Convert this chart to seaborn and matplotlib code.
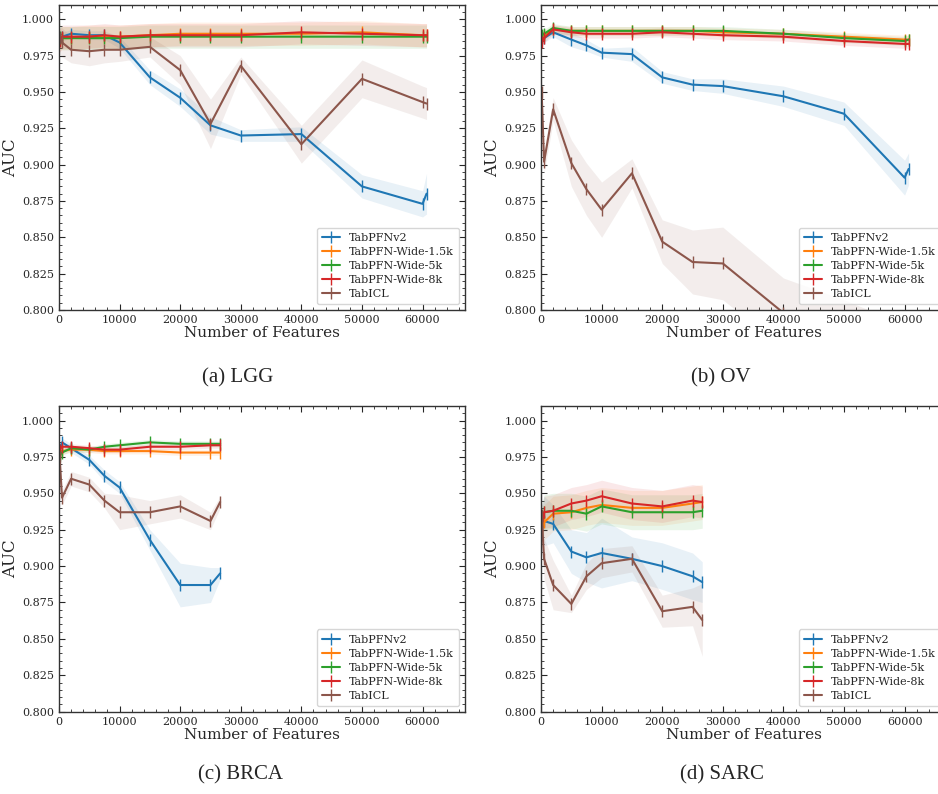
import numpy as np
import pandas as pd
import seaborn as sns
import matplotlib.pyplot as plt
from matplotlib.ticker import MultipleLocator, AutoMinorLocator

# Feature counts used in the sweep
feat_long = [100, 500, 2000, 5000, 7500, 10000, 15000, 20000, 25000, 30000, 40000, 50000, 60000, 60660]
feat_short = [100, 500, 2000, 5000, 7500, 10000, 15000, 20000, 25000, 26600]

models = ['TabPFNv2', 'TabPFN-Wide-1.5k', 'TabPFN-Wide-5k', 'TabPFN-Wide-8k', 'TabICL']
colors = ['#1f77b4', '#ff7f0e', '#2ca02c', '#d62728', '#8c564b']

# LGG
lgg_mean = {
    'TabPFNv2': [0.987, 0.988, 0.990, 0.989, 0.989, 0.984, 0.960, 0.946, 0.927, 0.920, 0.921, 0.885, 0.873, 0.880],
    'TabPFN-Wide-1.5k': [0.986, 0.987, 0.987, 0.988, 0.988, 0.988, 0.989, 0.990, 0.990, 0.990, 0.990, 0.991, 0.989, 0.989],
    'TabPFN-Wide-5k': [0.988, 0.987, 0.987, 0.987, 0.987, 0.987, 0.988, 0.988, 0.988, 0.988, 0.988, 0.988, 0.988, 0.988],
    'TabPFN-Wide-8k': [0.985, 0.988, 0.988, 0.988, 0.989, 0.988, 0.989, 0.989, 0.989, 0.989, 0.991, 0.990, 0.989, 0.989],
    'TabICL': [0.987, 0.984, 0.979, 0.978, 0.979, 0.979, 0.981, 0.965, 0.928, 0.968, 0.914, 0.959, 0.943, 0.942],
}
lgg_sd = {
    'TabPFNv2': [0.004, 0.003, 0.003, 0.003, 0.003, 0.004, 0.005, 0.006, 0.006, 0.004, 0.005, 0.008, 0.009, 0.014],
    'TabPFN-Wide-1.5k': [0.008] * 14,
    'TabPFN-Wide-5k': [0.008] * 14,
    'TabPFN-Wide-8k': [0.008] * 14,
    'TabICL': [0.011, 0.010, 0.009, 0.010, 0.009, 0.008, 0.007, 0.010, 0.017, 0.006, 0.013, 0.013, 0.011, 0.011],
}

# OV
ov_mean = {
    'TabPFNv2': [0.988, 0.987, 0.991, 0.986, 0.982, 0.977, 0.976, 0.960, 0.955, 0.954, 0.947, 0.935, 0.891, 0.897],
    'TabPFN-Wide-1.5k': [0.988, 0.989, 0.993, 0.992, 0.992, 0.992, 0.992, 0.992, 0.992, 0.991, 0.990, 0.988, 0.986, 0.986],
    'TabPFN-Wide-5k': [0.989, 0.990, 0.994, 0.992, 0.992, 0.992, 0.992, 0.992, 0.992, 0.992, 0.990, 0.987, 0.985, 0.986],
    'TabPFN-Wide-8k': [0.984, 0.987, 0.993, 0.991, 0.990, 0.990, 0.990, 0.991, 0.990, 0.989, 0.988, 0.985, 0.983, 0.983],
    'TabICL': [0.950, 0.902, 0.938, 0.901, 0.883, 0.869, 0.894, 0.847, 0.833, 0.832, 0.798, 0.780, 0.765, 0.765],
}
ov_sd = {
    'TabPFNv2': [0.004, 0.003, 0.003, 0.005, 0.004, 0.003, 0.005, 0.004, 0.004, 0.005, 0.007, 0.008, 0.012, 0.011],
    'TabPFN-Wide-1.5k': [0.003] * 14,
    'TabPFN-Wide-5k': [0.003] * 14,
    'TabPFN-Wide-8k': [0.003] * 14,
    'TabICL': [0.010, 0.008, 0.008, 0.016, 0.018, 0.019, 0.010, 0.015, 0.022, 0.025, 0.024, 0.027, 0.025, 0.025],
}

# BRCA
brca_mean = {
    'TabPFNv2': [0.980, 0.985, 0.981, 0.973, 0.962, 0.954, 0.918, 0.887, 0.887, 0.895],
    'TabPFN-Wide-1.5k': [0.978, 0.979, 0.980, 0.980, 0.979, 0.979, 0.979, 0.978, 0.978, 0.978],
    'TabPFN-Wide-5k': [0.976, 0.978, 0.981, 0.980, 0.982, 0.983, 0.985, 0.984, 0.984, 0.984],
    'TabPFN-Wide-8k': [0.980, 0.982, 0.982, 0.981, 0.980, 0.980, 0.982, 0.982, 0.983, 0.983],
    'TabICL': [0.975, 0.947, 0.960, 0.956, 0.945, 0.937, 0.937, 0.941, 0.931, 0.944],
}
brca_sd = {
    'TabPFNv2': [0.004, 0.003, 0.003, 0.003, 0.004, 0.004, 0.007, 0.015, 0.012, 0.004],
    'TabPFN-Wide-1.5k': [0.002] * 10,
    'TabPFN-Wide-5k': [0.002] * 10,
    'TabPFN-Wide-8k': [0.002] * 10,
    'TabICL': [0.015, 0.005, 0.005, 0.005, 0.005, 0.012, 0.008, 0.008, 0.006, 0.004],
}

# SARC
sarc_mean = {
    'TabPFNv2': [0.925, 0.931, 0.929, 0.910, 0.906, 0.909, 0.905, 0.900, 0.893, 0.889],
    'TabPFN-Wide-1.5k': [0.925, 0.930, 0.936, 0.937, 0.940, 0.942, 0.940, 0.940, 0.943, 0.944],
    'TabPFN-Wide-5k': [0.930, 0.937, 0.938, 0.938, 0.936, 0.941, 0.937, 0.937, 0.937, 0.938],
    'TabPFN-Wide-8k': [0.928, 0.937, 0.938, 0.943, 0.945, 0.948, 0.943, 0.941, 0.945, 0.944],
    'TabICL': [0.935, 0.905, 0.887, 0.874, 0.893, 0.902, 0.905, 0.869, 0.872, 0.863],
}
sarc_sd = {
    'TabPFNv2': [0.017, 0.017, 0.013, 0.015, 0.017, 0.024, 0.015, 0.016, 0.016, 0.014],
    'TabPFN-Wide-1.5k': [0.012] * 10,
    'TabPFN-Wide-5k': [0.012] * 10,
    'TabPFN-Wide-8k': [0.011] * 10,
    'TabICL': [0.020, 0.014, 0.017, 0.006, 0.009, 0.010, 0.009, 0.011, 0.013, 0.025],
}

panels = [
    ('(a) LGG', feat_long, lgg_mean, lgg_sd),
    ('(b) OV', feat_long, ov_mean, ov_sd),
    ('(c) BRCA', feat_short, brca_mean, brca_sd),
    ('(d) SARC', feat_short, sarc_mean, sarc_sd),
]

sns.set_style('ticks')
plt.rcParams['font.family'] = ['DejaVu Serif']

fig = plt.figure(figsize=(9.38, 7.94), dpi=100)
# axes boxes in figure fractions: left, bottom, width, height
boxes = [
    [0.0629, 0.6096, 0.4328, 0.3845],
    [0.5768, 0.6096, 0.4328, 0.3845],
    [0.0629, 0.1037, 0.4328, 0.3850],
    [0.5768, 0.1037, 0.4328, 0.3850],
]
caption_pos = [(0.253, 0.524), (0.768, 0.524), (0.256, 0.024), (0.770, 0.024)]

for (title, feats, means, sds), box, cpos in zip(panels, boxes, caption_pos):
    ax = fig.add_axes(box)
    for name, col in zip(models, colors):
        m = np.array(means[name])
        s = np.array(sds[name])
        df = pd.DataFrame({'features': feats, 'auc': m})
        sns.lineplot(data=df, x='features', y='auc', ax=ax, color=col, lw=1.5,
                     marker='|', markersize=8, markeredgewidth=1.0,
                     markeredgecolor=col, markerfacecolor=col, label=name)
        ax.fill_between(feats, m - s, m + s, color=col, alpha=0.1, lw=0)
    ax.set_xlim(0, 67000)
    ax.set_ylim(0.8, 1.01)
    ax.xaxis.set_major_locator(MultipleLocator(10000))
    ax.yaxis.set_major_locator(MultipleLocator(0.025))
    ax.xaxis.set_minor_locator(AutoMinorLocator(5))
    ax.yaxis.set_minor_locator(AutoMinorLocator(5))
    ax.yaxis.set_major_formatter(plt.FormatStrFormatter('%.3f'))
    ax.tick_params(which='both', direction='in', top=True, right=True, labelsize=8)
    ax.tick_params(which='major', length=4)
    ax.tick_params(which='minor', length=2)
    for sp in ax.spines.values():
        sp.set_linewidth(1.0)
        sp.set_color('#333333')
    ax.set_xlabel('Number of Features', fontsize=11, labelpad=1)
    ax.set_ylabel('AUC', fontsize=12, labelpad=2)
    ax.legend(loc='lower right', fontsize=8, frameon=True, fancybox=True,
              handlelength=1.6, borderpad=0.5, labelspacing=0.35)
    fig.text(cpos[0], cpos[1], title, ha='center', va='center', fontsize=15,
             family='Liberation Serif')

fig.savefig('out.png', dpi=100)
